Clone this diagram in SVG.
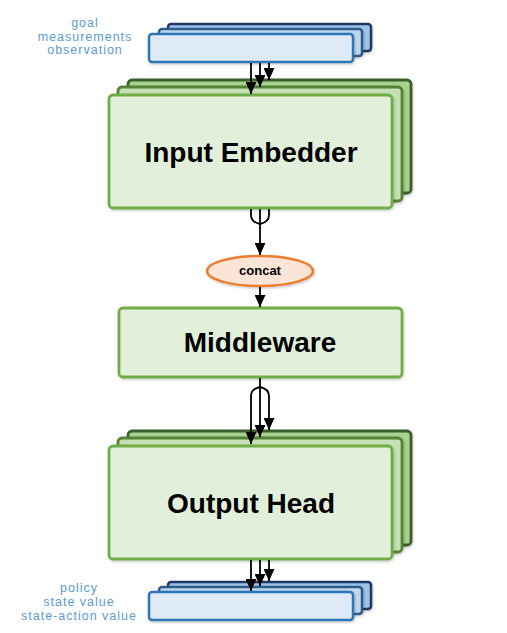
<svg xmlns="http://www.w3.org/2000/svg" width="507" height="633" viewBox="0 0 507 633">
<defs>
<marker id="ah" viewBox="0 0 12 11" refX="12" refY="5.5" markerWidth="12" markerHeight="11" markerUnits="userSpaceOnUse" orient="auto">
<path d="M0,0 L12,5.5 L0,11 z" fill="#000"/>
</marker>
<filter id="sh" x="-10%" y="-10%" width="120%" height="130%">
<feDropShadow dx="1" dy="1.5" stdDeviation="1.2" flood-color="#000" flood-opacity="0.2"/>
</filter>
<style>
.b1{fill:#9DC3E6;stroke:#1F3864;stroke-width:2.5}
.b2{fill:#BDD7EE;stroke:#2E5C8A;stroke-width:2.5}
.b3{fill:#DEEBF7;stroke:#2E75B6;stroke-width:2.5}
.g1{fill:#A9D18E;stroke:#3B5E2B;stroke-width:2.8}
.g2{fill:#C5E0B4;stroke:#548235;stroke-width:2.8}
.g3{fill:#E2EFDA;stroke:#70AD47;stroke-width:2.8}
.lbl{font-family:"Liberation Sans",Arial,sans-serif;font-size:12.5px;fill:#5B9BD5;text-anchor:middle;letter-spacing:1px}
.big{font-family:"Liberation Sans",Arial,sans-serif;font-size:28px;font-weight:bold;fill:#000;text-anchor:middle}
.cn{font-family:"Liberation Sans",Arial,sans-serif;font-size:13px;font-weight:bold;fill:#000;text-anchor:middle}
.c{fill:none;stroke:#000;stroke-width:1.8}
</style>
</defs>

<g id="inputs">
<rect class="b1" x="168" y="24" width="203" height="27" rx="3" filter="url(#sh)"/>
<rect class="b2" x="159" y="29" width="203" height="27" rx="3" filter="url(#sh)"/>
<rect class="b3" x="149" y="34" width="204" height="28" rx="3" filter="url(#sh)"/>
<text class="lbl" x="85" y="27">goal</text>
<text class="lbl" x="85" y="41">measurements</text>
<text class="lbl" x="85" y="54">observation</text>
</g>

<g id="input-embedder">
<rect class="g1" x="128" y="80" width="283" height="113" rx="4" filter="url(#sh)"/>
<rect class="g2" x="118" y="87" width="284" height="114" rx="4" filter="url(#sh)"/>
<rect class="g3" x="109" y="95" width="283" height="113" rx="4" filter="url(#sh)"/>
<text class="big" x="251" y="162">Input Embedder</text>
</g>

<g id="concat">
<ellipse cx="260" cy="271" rx="53" ry="15" fill="#FBE5D6" stroke="#ED7D31" stroke-width="2.5" filter="url(#sh)"/>
<text class="cn" x="260" y="275">concat</text>
</g>

<g id="middleware">
<rect class="g3" x="119" y="308" width="283" height="69" rx="4" filter="url(#sh)"/>
<text class="big" x="260" y="352">Middleware</text>
</g>

<g id="output-head">
<rect class="g1" x="128" y="431" width="283" height="114" rx="4" filter="url(#sh)"/>
<rect class="g2" x="118" y="438" width="284" height="114" rx="4" filter="url(#sh)"/>
<rect class="g3" x="109" y="446" width="283" height="113" rx="4" filter="url(#sh)"/>
<text class="big" x="251" y="513">Output Head</text>
</g>

<g id="outputs">
<rect class="b1" x="168" y="582" width="203" height="27" rx="3" filter="url(#sh)"/>
<rect class="b2" x="159" y="587" width="203" height="27" rx="3" filter="url(#sh)"/>
<rect class="b3" x="149" y="592" width="204" height="28" rx="3" filter="url(#sh)"/>
<text class="lbl" x="79" y="592">policy</text>
<text class="lbl" x="79" y="606">state value</text>
<text class="lbl" x="79" y="620">state-action value</text>
</g>

<g id="connectors">
<path class="c" d="M251,63 V94" marker-end="url(#ah)"/>
<path class="c" d="M260,63 V87" marker-end="url(#ah)"/>
<path class="c" d="M269,63 V80" marker-end="url(#ah)"/>
<path class="c" d="M251,209 V215 Q251,222 260,224"/>
<path class="c" d="M269,209 V215 Q269,222 260,224"/>
<path class="c" d="M260,209 V255" marker-end="url(#ah)"/>
<path class="c" d="M260,287 V307" marker-end="url(#ah)"/>
<path class="c" d="M260,378 V437" marker-end="url(#ah)"/>
<path class="c" d="M260,387 Q251,389 251,396 V444" marker-end="url(#ah)"/>
<path class="c" d="M260,387 Q269,389 269,396 V430" marker-end="url(#ah)"/>
<path class="c" d="M251,560 V591" marker-end="url(#ah)"/>
<path class="c" d="M260,560 V586" marker-end="url(#ah)"/>
<path class="c" d="M269,560 V581" marker-end="url(#ah)"/>
</g>
</svg>
